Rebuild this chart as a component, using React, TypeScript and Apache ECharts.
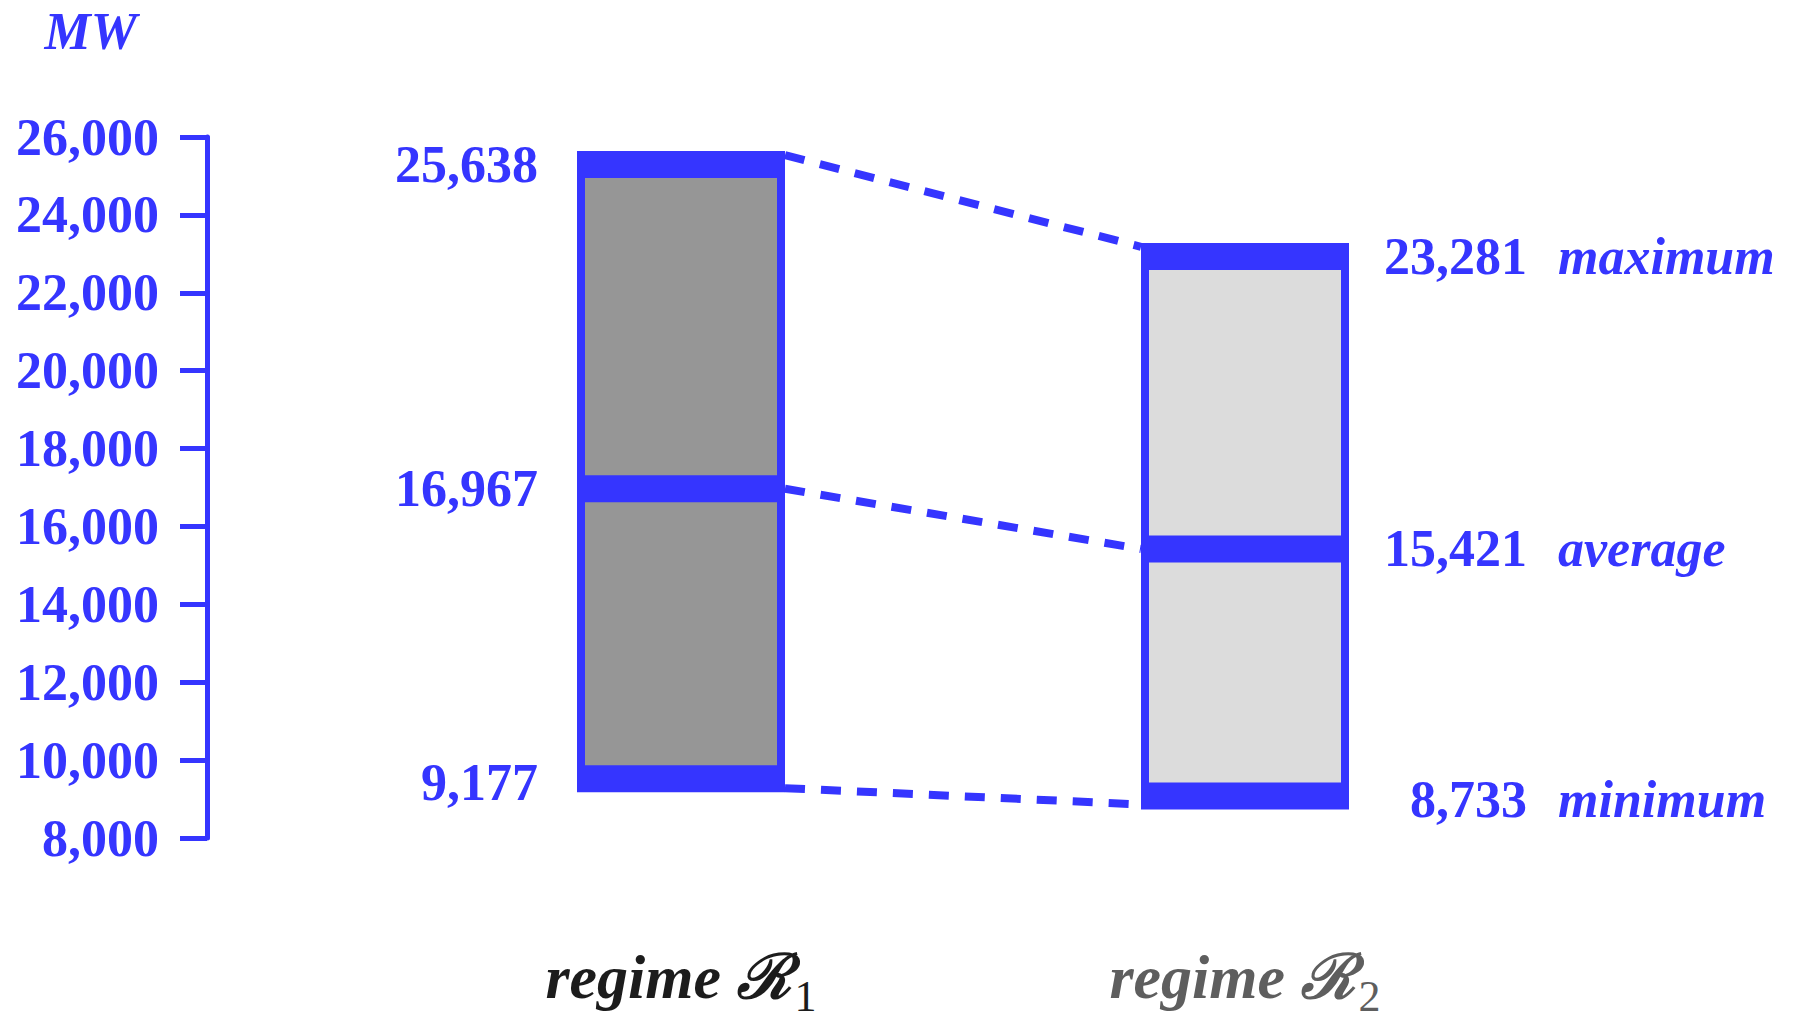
import React, { useEffect, useRef } from 'react';
import * as echarts from 'echarts';

// ---- data ----
const categories = ['regime ℛ', 'regime ℛ'];
const subscripts = ['1', '2'];
const minValues = [9177, 8733];
const avgValues = [16967, 15421];
const maxValues = [25638, 23281];
const statNames = ['minimum', 'average', 'maximum'];
const axisMin = 8000;
const axisMax = 26000;
const axisInterval = 2000;
const unitName = 'MW';

// ---- styles ----
const BLUE = '#3535ff';
const FILLS = ['#969696', '#dcdcdc'];
const LABEL_COLORS = ['#1c1c1c', '#5e5e5e'];
const FONT = "'Liberation Serif', 'Times New Roman', serif";
const BAR_W = 208;
const BORDER = 8;
const BAND = 27;

const fmt = (v: number) => v.toLocaleString('en-US');

export default function App() {
  const ref = useRef<HTMLDivElement>(null);

  useEffect(() => {
    if (!ref.current) return;
    const chart = echarts.init(ref.current, undefined, { renderer: 'svg' });

    const data = categories.map((_, i) => [i, minValues[i], avgValues[i], maxValues[i]]);

    const renderItem = (params: any, api: any) => {
      const idx = api.value(0);
      const [cx, yMin] = api.coord([idx, api.value(1)]);
      const yAvg = api.coord([idx, api.value(2)])[1];
      const yMax = api.coord([idx, api.value(3)])[1];
      const half = BAR_W / 2;
      const children: any[] = [];

      children.push({
        type: 'rect',
        shape: { x: cx - half, y: yMax, width: BAR_W, height: yMin - yMax },
        style: { fill: BLUE },
      });
      children.push({
        type: 'rect',
        shape: {
          x: cx - half + BORDER,
          y: yMax + BAND,
          width: BAR_W - 2 * BORDER,
          height: yAvg - BAND / 2 - (yMax + BAND),
        },
        style: { fill: FILLS[idx] },
      });
      children.push({
        type: 'rect',
        shape: {
          x: cx - half + BORDER,
          y: yAvg + BAND / 2,
          width: BAR_W - 2 * BORDER,
          height: yMin - BAND - (yAvg + BAND / 2),
        },
        style: { fill: FILLS[idx] },
      });

      const vals = [api.value(1), api.value(2), api.value(3)];
      const ys = [yMin - BAND / 2 + 4, yAvg, yMax + BAND / 2];
      vals.forEach((v: number, k: number) => {
        if (idx === 0) {
          children.push({
            type: 'text',
            style: {
              text: fmt(v),
              x: cx - half - 39,
              y: ys[k],
              align: 'right',
              verticalAlign: 'middle',
              fill: BLUE,
              font: `bold 52px ${FONT}`,
            },
          });
        } else {
          children.push({
            type: 'text',
            style: {
              text: fmt(v),
              x: cx + half + 178,
              y: ys[k],
              align: 'right',
              verticalAlign: 'middle',
              fill: BLUE,
              font: `bold 52px ${FONT}`,
            },
          });
          children.push({
            type: 'text',
            style: {
              text: statNames[k],
              x: cx + half + 209,
              y: ys[k],
              align: 'left',
              verticalAlign: 'middle',
              fill: BLUE,
              font: `italic bold 52px ${FONT}`,
            },
          });
        }
      });

      if (idx === 1) {
        const prev = idx - 1;
        const px = api.coord([prev, maxValues[prev]])[0] + half;
        const pMax = api.coord([prev, maxValues[prev]])[1];
        const pAvg = api.coord([prev, avgValues[prev]])[1];
        const pMin = api.coord([prev, minValues[prev]])[1];
        const lx = cx - half;
        const pairs = [
          [pMax + 4, yMax + 4],
          [pAvg, yAvg],
          [pMin - 4, yMin - 5],
        ];
        pairs.forEach(([a, b]) => {
          children.push({
            type: 'line',
            shape: { x1: px, y1: a, x2: lx, y2: b },
            style: { stroke: BLUE, lineWidth: 8, lineDash: [20, 16], fill: null },
          });
        });
      }

      return { type: 'group', children };
    };

    const mainStyle = (c: string) => ({
      fontFamily: FONT,
      fontSize: 62,
      lineHeight: 56,
      fontStyle: 'italic',
      fontWeight: 'bold',
      color: c,
      padding: [0, 4, 10, 0],
      verticalAlign: 'bottom',
    });
    const subStyle = (c: string) => ({
      fontFamily: FONT,
      fontSize: 44,
      lineHeight: 34,
      color: c,
      verticalAlign: 'bottom',
    });

    chart.setOption({
      animation: false,
      backgroundColor: '#ffffff',
      grid: {
        left: 399,
        right: 276,
        top: 137,
        bottom: 191,
        containLabel: false,
        outerBoundsMode: 'none',
      },
      xAxis: {
        type: 'category',
        data: categories,
        axisLine: { show: false },
        axisTick: { show: false },
        splitLine: { show: false },
        axisLabel: {
          margin: 124,
          interval: 0,
          formatter: (v: string, i: number) =>
            `{m${i}|${v}}{s${i}|${subscripts[i]}}`,
          rich: {
            m0: mainStyle(LABEL_COLORS[0]),
            s0: subStyle(LABEL_COLORS[0]),
            m1: mainStyle(LABEL_COLORS[1]),
            s1: subStyle(LABEL_COLORS[1]),
          },
        },
      },
      yAxis: {
        type: 'value',
        min: axisMin,
        max: axisMax,
        interval: axisInterval,
        offset: 192,
        name: unitName,
        nameLocation: 'end',
        nameGap: 80,
        nameTextStyle: {
          fontFamily: FONT,
          fontSize: 52,
          lineHeight: 52,
          fontStyle: 'italic',
          fontWeight: 'bold',
          color: BLUE,
          align: 'right',
          padding: [0, 70, 0, 0],
        },
        axisLine: { show: true, lineStyle: { color: BLUE, width: 5 } },
        axisTick: { show: true, length: 27, lineStyle: { color: BLUE, width: 5 } },
        splitLine: { show: false },
        axisLabel: {
          margin: 48,
          showMinLabel: true,
          showMaxLabel: true,
          formatter: (v: number) => fmt(v),
          fontFamily: FONT,
          fontSize: 52,
          fontWeight: 'bold',
          color: BLUE,
        },
      },
      series: [
        {
          type: 'custom',
          renderItem,
          data,
          clip: false,
          encode: { x: 0, y: [1, 2, 3] },
        },
      ],
    });

    return () => chart.dispose();
  }, []);

  return (
    <div
      ref={ref}
      style={{ position: 'fixed', left: 0, top: 0, width: 1803, height: 1029 }}
    />
  );
}
